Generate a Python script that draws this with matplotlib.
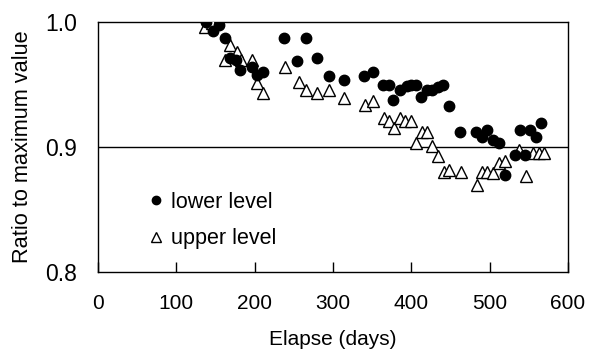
import matplotlib
matplotlib.use("Agg")
import matplotlib.pyplot as plt

lower_x = [138, 147, 154, 162, 168, 176, 181, 196, 203, 210, 237, 254, 265, 279, 295,
           314, 340, 351, 364, 371, 377, 385, 394, 400, 406, 412, 420, 426, 434, 441,
           448, 462, 482, 490, 497, 504, 512, 519, 532, 539, 545, 552, 559, 566]
lower_y = [1.000, 0.993, 0.998, 0.987, 0.971, 0.970, 0.962, 0.964, 0.958, 0.960, 0.987,
           0.969, 0.987, 0.971, 0.957, 0.954, 0.957, 0.960, 0.950, 0.950, 0.938, 0.946,
           0.949, 0.950, 0.950, 0.940, 0.946, 0.946, 0.948, 0.950, 0.933, 0.912, 0.912,
           0.908, 0.914, 0.906, 0.903, 0.878, 0.894, 0.914, 0.894, 0.914, 0.908, 0.919]

upper_x = [137, 146, 162, 168, 177, 183, 197, 203, 210, 239, 256, 266, 280, 295, 314,
           341, 351, 365, 371, 378, 385, 392, 399, 406, 413, 420, 427, 434, 442, 448,
           463, 484, 490, 497, 504, 512, 519, 538, 546, 555, 563, 569]
upper_y = [0.996, 0.999, 0.970, 0.982, 0.976, 0.970, 0.970, 0.951, 0.943, 0.964, 0.952,
           0.946, 0.943, 0.946, 0.939, 0.934, 0.937, 0.923, 0.921, 0.915, 0.923, 0.921,
           0.921, 0.903, 0.912, 0.912, 0.901, 0.893, 0.880, 0.882, 0.880, 0.870, 0.880,
           0.880, 0.879, 0.887, 0.889, 0.898, 0.877, 0.895, 0.895, 0.895]

x_ticks = [0, 100, 200, 300, 400, 500, 600]
y_ticks = [0.8, 0.9, 1.0]
y_tick_labels = ["0.8", "0.9", "1.0"]

plt.rcParams['font.family'] = ['Liberation Sans', 'DejaVu Sans']

fig = plt.figure(figsize=(6.0, 3.49), dpi=100)
ax = fig.add_axes([98/600, 1-272/349, 470/600, 250/349])

ax.plot(upper_x, upper_y, linestyle='none', marker='^', markersize=8.5,
        markerfacecolor='white', markeredgecolor='black', markeredgewidth=1.0,
        label='upper level', zorder=3)
ax.plot(lower_x, lower_y, linestyle='none', marker='o', markersize=7.5,
        color='black', label='lower level', zorder=4)

ax.set_xlim(0, 600)
ax.set_ylim(0.8, 1.0)
ax.set_xticks(x_ticks)
ax.set_yticks(y_ticks)
ax.set_yticklabels(y_tick_labels)
ax.axhline(0.9, color='black', linewidth=1.0, zorder=1)

for s in ax.spines.values():
    s.set_linewidth(1.0)

ax.tick_params(axis='x', direction='in', length=7, width=1, labelsize=15, pad=16)
ax.tick_params(axis='y', length=0, labelsize=16.5, pad=15)

ax.set_xlabel('Elapse (days)', fontsize=15, labelpad=12)
ax.set_ylabel('Ratio to maximum value', fontsize=15.7)
ax.yaxis.set_label_coords(-0.138, 0.5)

handles, labels = ax.get_legend_handles_labels()
leg = ax.legend([handles[1], handles[0]], [labels[1], labels[0]],
                loc='upper left', bbox_to_anchor=(0.105, 0.32), frameon=False,
                fontsize=15.5, markerscale=0.8, handlelength=0.8,
                handletextpad=0.3, labelspacing=0.7, borderaxespad=0,
                borderpad=0)

fig.savefig('out.png', dpi=100)
